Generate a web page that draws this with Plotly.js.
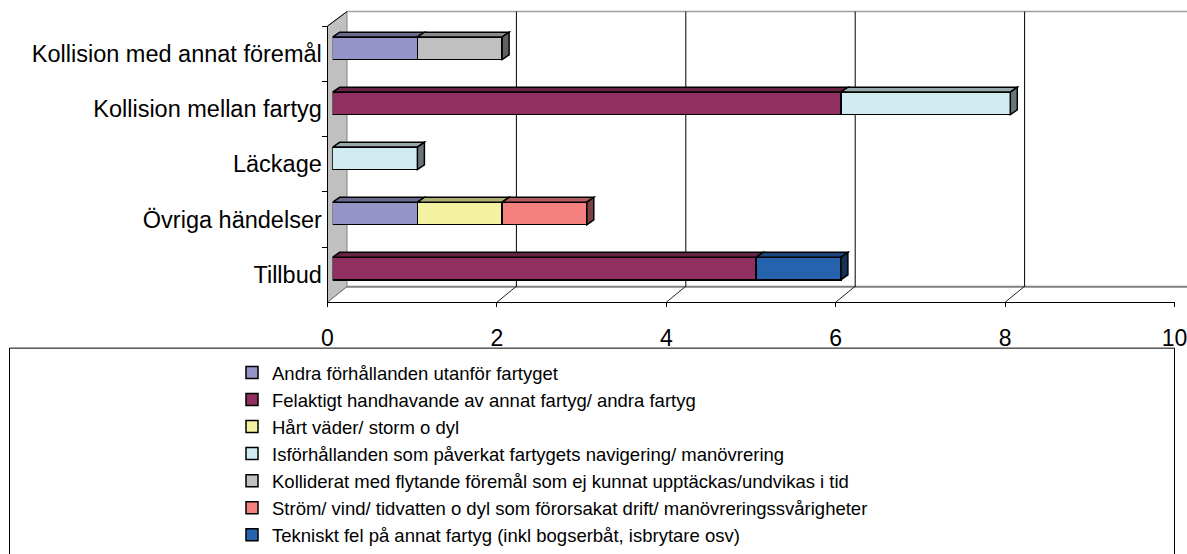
<!DOCTYPE html>
<html><head><meta charset="utf-8">
<script src="https://cdn.plot.ly/plotly-3.0.1.min.js"></script>
<style>html,body{margin:0;padding:0;background:#fff}#chart{width:1187px;height:554px}</style>
</head><body><div id="chart"></div>
<script>
// ---------- DATA ----------
const categories = ["Kollision med annat föremål", "Kollision mellan fartyg", "Läckage", "Övriga händelser", "Tillbud"];
const seriesNames = [
  "Andra förhållanden utanför fartyget",
  "Felaktigt handhavande av annat fartyg/ andra fartyg",
  "Hårt väder/ storm o dyl",
  "Isförhållanden som påverkat fartygets navigering/ manövrering",
  "Kolliderat med flytande föremål som ej kunnat upptäckas/undvikas i tid",
  "Ström/ vind/ tidvatten o dyl som förorsakat drift/ manövreringssvårigheter",
  "Tekniskt fel på annat fartyg (inkl bogserbåt, isbrytare osv)"
];
const andraForhallanden = [1, 0, 0, 1, 0];
const felaktigtHandhavande = [0, 6, 0, 0, 5];
const hartVader = [0, 0, 0, 1, 0];
const isforhallanden = [0, 2, 1, 0, 0];
const kolliderat = [1, 0, 0, 0, 0];
const stromVind = [0, 0, 0, 1, 0];
const teknisktFel = [0, 0, 0, 0, 1];
const xTickValues = [0, 2, 4, 6, 8, 10];

// ---------- STYLE ----------
const seriesValues = [andraForhallanden, felaktigtHandhavande, hartVader, isforhallanden, kolliderat, stromVind, teknisktFel];
const seriesColors = ["#9494C8", "#913060", "#F3F2A0", "#D0ECF0", "#C0C0C0", "#F58080", "#2663AE"];
const FONT = "Liberation Sans, Arial, Helvetica, sans-serif";
const W = 1187, H = 554;
const fx = p => p / W;
const fy = p => 1 - p / H;

const UNIT = 84.7;              // px per value unit
const FRONT_X0 = 327.5;         // front axis 0
const FLOOR_Y = 313;            // front floor line
const DEPTH_DX = 19.5, DEPTH_DY = 16;
const BACK_TOP = 12;
const BACK_FLOOR = FLOOR_Y - DEPTH_DY;
const CAT_TOP = 27;
const BAR_X0 = 332.7;
const BAR_Y_TOP = 21.5, BAR_Y_BOT = 306.5;
const BAR_W = 0.41;
const FACE_DX = 7, FACE_DY = 5;
const XMAX = 10;

function shade(hex, f) {
  const n = parseInt(hex.slice(1), 16);
  const r = Math.round(((n >> 16) & 255) * f), g = Math.round(((n >> 8) & 255) * f), b = Math.round((n & 255) * f);
  return `rgb(${r},${g},${b})`;
}

// ---------- TRACES ----------
const traces = seriesNames.map((name, s) => ({
  type: "bar", orientation: "h", name: name,
  x: seriesValues[s], y: categories,
  xaxis: "x", yaxis: "y",
  width: BAR_W,
  marker: { color: seriesColors[s], line: { color: "#000", width: 1.5 } },
  hoverinfo: "x+name"
}));
// invisible helper trace to give the front category axis its categories
traces.push({
  type: "scatter", mode: "markers", x: categories.map(() => 0), y: categories,
  xaxis: "x2", yaxis: "y2", marker: { opacity: 0 }, showlegend: false, hoverinfo: "skip"
});

// ---------- SHAPES ----------
const shapes = [];
// side wall
shapes.push({
  type: "path", xref: "paper", yref: "paper", layer: "below",
  path: `M${fx(FRONT_X0)},${fy(CAT_TOP)} L${fx(FRONT_X0 + DEPTH_DX)},${fy(BACK_TOP)} L${fx(FRONT_X0 + DEPTH_DX)},${fy(BACK_FLOOR)} L${fx(FRONT_X0)},${fy(FLOOR_Y)} Z`,
  fillcolor: "#C0C0C0", line: { color: "#808080", width: 1 }
});
shapes.push({ type: "line", xref: "paper", yref: "paper", layer: "below",
  x0: fx(FRONT_X0), y0: fy(CAT_TOP), x1: fx(FRONT_X0 + DEPTH_DX), y1: fy(BACK_TOP), line: { color: "#000", width: 1 } });
// back wall top and back floor
shapes.push({ type: "line", xref: "paper", yref: "paper", layer: "below",
  x0: fx(FRONT_X0 + DEPTH_DX), y0: fy(BACK_TOP), x1: 1, y1: fy(BACK_TOP), line: { color: "#A0A0A0", width: 1.5 } });
shapes.push({ type: "line", xref: "paper", yref: "paper", layer: "below",
  x0: fx(FRONT_X0 + DEPTH_DX), y0: fy(BACK_FLOOR), x1: 1, y1: fy(BACK_FLOOR), line: { color: "#808080", width: 2 } });
// gridlines on back wall and floor diagonals, from the front axis ticks
xTickValues.forEach(v => {
  if (v > 0) shapes.push({ type: "line", xref: "x2", yref: "paper", layer: "below",
    xsizemode: "pixel", xanchor: v, x0: DEPTH_DX, x1: DEPTH_DX,
    y0: fy(BACK_FLOOR), y1: fy(BACK_TOP), line: { color: "#000", width: 1 } });
  shapes.push({ type: "line", xref: "x2", yref: "paper", layer: "below",
    xsizemode: "pixel", xanchor: v, x0: 0, x1: DEPTH_DX,
    ysizemode: "pixel", yanchor: fy(FLOOR_Y), y0: 0, y1: DEPTH_DY,
    line: { color: v === 0 ? "#808080" : "#222", width: 1 } });
});
// legend box
shapes.push({ type: "rect", xref: "paper", yref: "paper", layer: "below",
  x0: fx(9.5), x1: fx(1174.5), y0: fy(600), y1: fy(360.5), line: { color: "#000", width: 1 }, fillcolor: "rgba(0,0,0,0)" });

// 3D faces of bars (top faces and end faces)
const dxU = FACE_DX / UNIT;
const dyU = FACE_DY / ((BAR_Y_BOT - BAR_Y_TOP) / categories.length);
categories.forEach((c, i) => {
  let base = 0, last = -1;
  const yt = i - BAR_W / 2, yb = i + BAR_W / 2;
  seriesValues.forEach((vals, s) => {
    const v = vals[i];
    if (!v) return;
    const b0 = base, b1 = base + v;
    shapes.push({ type: "path", xref: "x", yref: "y", layer: "above",
      path: `M${b0},${yt} L${b1},${yt} L${b1 + dxU},${yt - dyU} L${b0 + dxU},${yt - dyU} Z`,
      fillcolor: shade(seriesColors[s], 0.72), line: { color: "#000", width: 1.5 } });
    base = b1; last = s;
  });
  if (last >= 0) shapes.push({ type: "path", xref: "x", yref: "y", layer: "above",
    path: `M${base},${yt} L${base + dxU},${yt - dyU} L${base + dxU},${yb - dyU} L${base},${yb} Z`,
    fillcolor: shade(seriesColors[last], 0.5), line: { color: "#000", width: 1.5 } });
});

// ---------- LAYOUT ----------
const layout = {
  width: W, height: H, autosize: false,
  margin: { l: 0, r: 0, t: 0, b: 0, pad: 0 },
  paper_bgcolor: "#fff", plot_bgcolor: "rgba(0,0,0,0)",
  barmode: "stack", bargap: 0,
  font: { family: FONT, color: "#000" },
  showlegend: true,
  legend: { x: fx(232), xanchor: "left", y: fy(366.5), yanchor: "top", traceorder: "normal",
    font: { family: FONT, size: 18.5, color: "#000" }, bgcolor: "rgba(0,0,0,0)", borderwidth: 0 },
  xaxis: { domain: [fx(BAR_X0), fx(BAR_X0 + UNIT * XMAX)], range: [0, XMAX], anchor: "y", visible: false, fixedrange: true },
  yaxis: { domain: [fy(BAR_Y_BOT), fy(BAR_Y_TOP)], type: "category", categoryorder: "array", categoryarray: categories,
    range: [categories.length - 0.5, -0.5], anchor: "x", visible: false, fixedrange: true },
  xaxis2: { domain: [fx(FRONT_X0), fx(FRONT_X0 + UNIT * XMAX)], range: [0, XMAX], anchor: "y2",
    tickvals: xTickValues, ticktext: xTickValues.map(String), ticks: "outside", ticklen: 4, tickcolor: "#000",
    ticklabelstandoff: 11, ticklabeloverflow: "allow",
    showline: true, linecolor: "#000", linewidth: 1, showgrid: false, zeroline: false,
    tickfont: { family: FONT, size: 23, color: "#000" }, fixedrange: true },
  yaxis2: { domain: [fy(FLOOR_Y), fy(CAT_TOP)], type: "category", categoryorder: "array", categoryarray: categories,
    range: [categories.length - 0.5, -0.5], anchor: "x2", tickson: "boundaries", ticks: "outside", ticklen: 5, tickcolor: "#000",
    showline: true, linecolor: "#000", linewidth: 1, showgrid: false, zeroline: false,
    tickfont: { family: FONT, size: 23.5, color: "#000" }, fixedrange: true },
  shapes: shapes
};

Plotly.newPlot("chart", traces, layout, { staticPlot: true, displayModeBar: false });
</script>
</body></html>
